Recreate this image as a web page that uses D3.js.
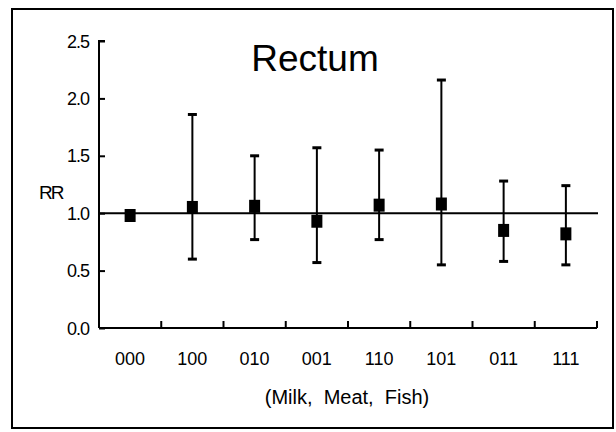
<!DOCTYPE html>
<html lang="en">
<head>
    <meta charset="UTF-8">
    <script src="https://d3js.org/d3.v7.min.js"></script>
    <style>
        body {
            margin: 0;
            background: white;
            font-family: "Liberation Sans", Arial, sans-serif;
        }
        text {
            fill: black;
            white-space: pre;
        }
    </style>
</head>
<body>
    <div id="chart"></div>
    <script>
        // data
        const groups = ["000", "100", "010", "001", "110", "101", "011", "111"];
        const rr = [0.98, 1.05, 1.06, 0.93, 1.07, 1.08, 0.85, 0.82];
        const lower = [0.98, 0.60, 0.77, 0.57, 0.77, 0.55, 0.58, 0.55];
        const upper = [0.98, 1.86, 1.50, 1.57, 1.55, 2.16, 1.28, 1.24];
        const yTicks = [0.0, 0.5, 1.0, 1.5, 2.0, 2.5];

        const width = 616, height = 432;
        const margin = { top: 41, right: 20, bottom: 104, left: 99 };

        const svg = d3.select("#chart").append("svg")
            .attr("width", width)
            .attr("height", height);

        // outer frame
        svg.append("rect")
            .attr("x", 12)
            .attr("y", 9)
            .attr("width", 601)
            .attr("height", 419)
            .attr("fill", "none")
            .attr("stroke", "black")
            .attr("stroke-width", 2);

        const x = d3.scaleBand()
            .domain(groups)
            .range([margin.left, 597])
            .padding(0);

        const y = d3.scaleLinear()
            .domain([0, 2.5])
            .range([328, margin.top]);

        // y axis, ticks pointing inward
        const yAxis = svg.append("g")
            .attr("transform", `translate(${margin.left},0)`)
            .call(d3.axisRight(y).tickValues(yTicks).tickSize(6).tickFormat(""));
        yAxis.select(".domain").attr("d", `M6,${y(2.5)}H0V${y(0)}`);
        yAxis.selectAll("path, line").attr("stroke", "black").attr("stroke-width", 2);

        svg.append("g").selectAll("text")
            .data(yTicks)
            .join("text")
            .attr("x", 89)
            .attr("y", d => y(d) + 6.5)
            .attr("text-anchor", "end")
            .style("font-size", "18px")
            .style("letter-spacing", "-1px")
            .text(d => d.toFixed(1));

        // x axis with ticks at band edges, pointing up
        const edges = groups.map(g => x(g) + x.bandwidth());
        const xAxis = svg.append("g");
        xAxis.append("line")
            .attr("x1", margin.left)
            .attr("x2", x.range()[1])
            .attr("y1", y(0))
            .attr("y2", y(0))
            .attr("stroke", "black")
            .attr("stroke-width", 2);
        xAxis.selectAll("line.tick")
            .data(edges)
            .join("line")
            .attr("class", "tick")
            .attr("x1", d => d)
            .attr("x2", d => d)
            .attr("y1", y(0))
            .attr("y2", y(0) - 7)
            .attr("stroke", "black")
            .attr("stroke-width", 2);

        svg.append("g").selectAll("text")
            .data(groups)
            .join("text")
            .attr("x", d => x(d) + x.bandwidth() / 2)
            .attr("y", 365)
            .attr("text-anchor", "middle")
            .style("font-size", "18px")
            .text(d => d);

        // reference line at RR = 1
        svg.append("line")
            .attr("x1", margin.left)
            .attr("x2", 598)
            .attr("y1", y(1))
            .attr("y2", y(1))
            .attr("stroke", "black")
            .attr("stroke-width", 2);

        // error bars
        const bars = svg.append("g");
        groups.forEach((g, i) => {
            if (upper[i] === lower[i]) return;
            const cx = x(g) + x.bandwidth() / 2;
            bars.append("line")
                .attr("x1", cx).attr("x2", cx)
                .attr("y1", y(upper[i])).attr("y2", y(lower[i]))
                .attr("stroke", "black")
                .attr("stroke-width", 2);
            [upper[i], lower[i]].forEach(v => {
                bars.append("line")
                    .attr("x1", cx - 4.5).attr("x2", cx + 4.5)
                    .attr("y1", y(v)).attr("y2", y(v))
                    .attr("stroke", "black")
                    .attr("stroke-width", 3);
            });
        });

        // point estimates
        svg.append("g").selectAll("rect")
            .data(groups)
            .join("rect")
            .attr("x", d => x(d) + x.bandwidth() / 2 - 5.5)
            .attr("y", (d, i) => y(rr[i]) - 6.5)
            .attr("width", 11)
            .attr("height", 13)
            .attr("fill", "black");

        // titles
        svg.append("text")
            .attr("x", 315)
            .attr("y", 71)
            .attr("text-anchor", "middle")
            .style("font-size", "37px")
            .text("Rectum");

        svg.append("text")
            .attr("x", 39)
            .attr("y", 199)
            .style("font-size", "19px")
            .style("letter-spacing", "-2px")
            .text("RR");

        svg.append("text")
            .attr("x", 347)
            .attr("y", 404)
            .attr("text-anchor", "middle")
            .style("font-size", "20px")
            .text("(Milk,  Meat,  Fish)");
    </script>
</body>
</html>
